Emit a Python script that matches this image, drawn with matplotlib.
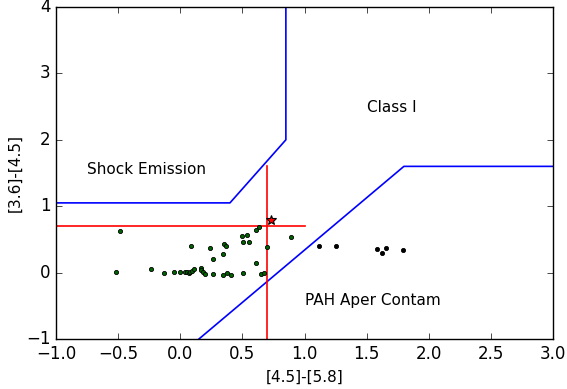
import matplotlib
matplotlib.use('Agg')
import matplotlib.pyplot as plt
import numpy as np

plt.style.use('classic')

# sources inside the colour region (dark green)
green_x = [-0.485, -0.515, -0.238, -0.131, -0.050, -0.002, 0.041, 0.057, 0.068, 0.078,
           0.095, 0.113, 0.089, 0.165, 0.170, 0.181, 0.199, 0.239, 0.261, 0.261,
           0.344, 0.341, 0.373, 0.406, 0.350, 0.366, 0.494, 0.537, 0.505, 0.556,
           0.502, 0.612, 0.607, 0.634, 0.650, 0.672, 0.696, 0.894]
green_y = [0.631, 0.014, 0.050, -0.002, 0.009, 0.004, 0.014, 0.004, -0.011, 0.014,
           0.024, 0.054, 0.401, 0.074, 0.039, 0.014, -0.021, 0.366, 0.200, -0.017,
           0.276, -0.036, -0.006, -0.041, 0.426, 0.405, 0.556, 0.570, 0.465, 0.465,
           -0.011, 0.140, 0.642, 0.682, -0.017, -0.002, 0.386, 0.536]

# PAH contaminated sources (black)
black_x = [1.114, 1.253, 1.583, 1.624, 1.656, 1.793]
black_y = [0.401, 0.405, 0.360, 0.295, 0.371, 0.345]

star_x = [0.73]
star_y = [0.79]

# region boundaries
shock_x = [-1.0, 0.40, 0.85, 0.85]
shock_y = [1.05, 1.05, 2.0, 4.0]
pah_x = [0.15, 1.8, 3.0]
pah_y = [-1.0, 1.6, 1.6]
cut_h_x = [-1.0, 1.0]
cut_h_y = [0.7, 0.7]
cut_v_x = [0.7, 0.7]
cut_v_y = [-1.0, 1.6]

fig = plt.figure(figsize=(5.67, 3.89), dpi=100, facecolor='white')
ax = fig.add_axes([0.0988, 0.1285, 0.8765, 0.8535])

ax.plot(shock_x, shock_y, color='blue', lw=1.2)
ax.plot(pah_x, pah_y, color='blue', lw=1.2)
ax.plot(cut_h_x, cut_h_y, color='red', lw=1.2)
ax.plot(cut_v_x, cut_v_y, color='red', lw=1.2)

ax.plot(green_x, green_y, 'o', color='darkgreen', mec='black', mew=0.6, ms=3)
ax.plot(black_x, black_y, 'o', color='black', mec='black', mew=0.6, ms=3)
ax.plot(star_x, star_y, '*', color='red', mec='black', mew=0.8, ms=7)

ax.text(1.70, 2.48, 'Class I', ha='center', va='center', fontsize=11)
ax.text(-0.75, 1.56, 'Shock Emission', ha='left', va='center', fontsize=11)
ax.text(1.0, -0.42, 'PAH Aper Contam', ha='left', va='center', fontsize=11)

ax.set_xlim(-1, 3)
ax.set_ylim(-1, 4)
ax.set_xlabel('[4.5]-[5.8]', fontsize=11)
ax.set_ylabel('[3.6]-[4.5]', fontsize=11)
ax.yaxis.set_label_coords(-0.068, 0.5)
ax.tick_params(labelsize=12)

fig.savefig('out.png', dpi=100, facecolor='white')
